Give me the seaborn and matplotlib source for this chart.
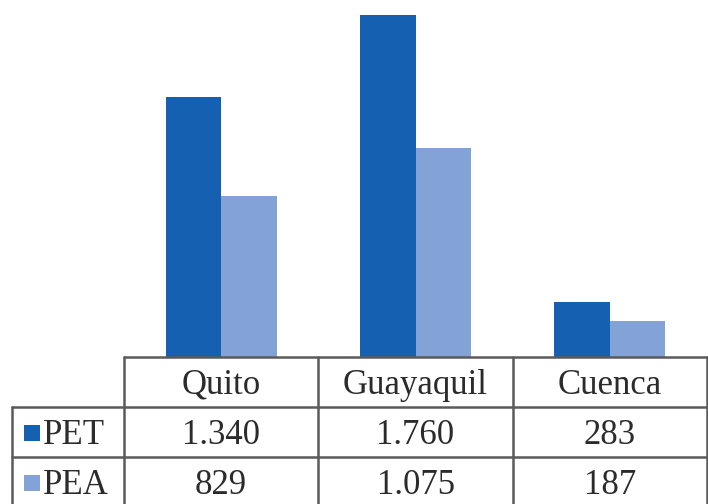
import matplotlib
matplotlib.use("Agg")
import matplotlib.pyplot as plt
import seaborn as sns
import pandas as pd

# Población en edad de trabajar (PET) y económicamente activa (PEA), miles
ciudades = ["Quito", "Guayaquil", "Cuenca"]
series = ["PET", "PEA"]
pet = [1340, 1760, 283]
pea = [829, 1075, 187]
colores = ["#1660b2", "#83a2d6"]

df = pd.DataFrame({
    "ciudad": ciudades * 2,
    "serie": [series[0]] * 3 + [series[1]] * 3,
    "valor": pet + pea,
})

sns.set_theme(style="white")
plt.rcParams["font.family"] = ["Liberation Serif", "DejaVu Serif"]

W, H = 708, 504
fig = plt.figure(figsize=(W / 100, H / 100), dpi=100)

# Geometría en píxeles
x_tab_left = 12
x_col0 = 124
x_right = 707
y_top_tab = 357
row_h = 50

ax = fig.add_axes([x_col0 / W, (H - y_top_tab) / H, (x_right - x_col0) / W, y_top_tab / H])
sns.barplot(data=df, x="ciudad", y="valor", hue="serie", order=ciudades,
            hue_order=series, palette=colores, width=0.57, saturation=1,
            linewidth=0, legend=False, ax=ax)
ax.set_xlim(-0.5, len(ciudades) - 0.5)
ax.set_ylim(0, max(pet) * y_top_tab / 342)
ax.set_axis_off()

# Tabla de datos bajo el gráfico
tab = fig.add_axes([0, 0, 1, 1])
tab.set_xlim(0, W)
tab.set_ylim(H, 0)
tab.set_axis_off()

lc = "#5a5a5a"
lw = 1.8
col_w = (x_right - x_col0) / len(ciudades)
rows_y = [y_top_tab + i * row_h for i in range(4)]

# horizontales
tab.plot([x_col0, x_right], [rows_y[0]] * 2, color=lc, lw=lw)
for y in rows_y[1:]:
    tab.plot([x_tab_left, x_right], [y] * 2, color=lc, lw=lw)
# verticales
tab.plot([x_tab_left] * 2, [rows_y[1], rows_y[3]], color=lc, lw=lw)
for i in range(len(ciudades) + 1):
    x = x_col0 + i * col_w
    tab.plot([x] * 2, [rows_y[0], rows_y[3]], color=lc, lw=lw)

tc = "#2b2b2b"
fs = 25
dy = 3
for i, c in enumerate(ciudades):
    cx = x_col0 + (i + 0.5) * col_w
    tab.text(cx, rows_y[0] + row_h / 2 + dy, c, ha="center", va="center",
             fontsize=fs, color=tc)

def fmt(v):
    return f"{v:,}".replace(",", ".")

for r, (nombre, vals, col) in enumerate(zip(series, [pet, pea], colores)):
    cy = rows_y[r + 1] + row_h / 2
    tab.add_patch(plt.Rectangle((24, cy - 7), 16, 16, color=col, lw=0))
    tab.text(43, cy + dy, nombre, ha="left", va="center", fontsize=fs, color=tc)
    for i, v in enumerate(vals):
        cx = x_col0 + (i + 0.5) * col_w
        tab.text(cx, cy + dy, fmt(v), ha="center", va="center", fontsize=fs, color=tc)

fig.savefig("out.png", dpi=100, facecolor="white")
